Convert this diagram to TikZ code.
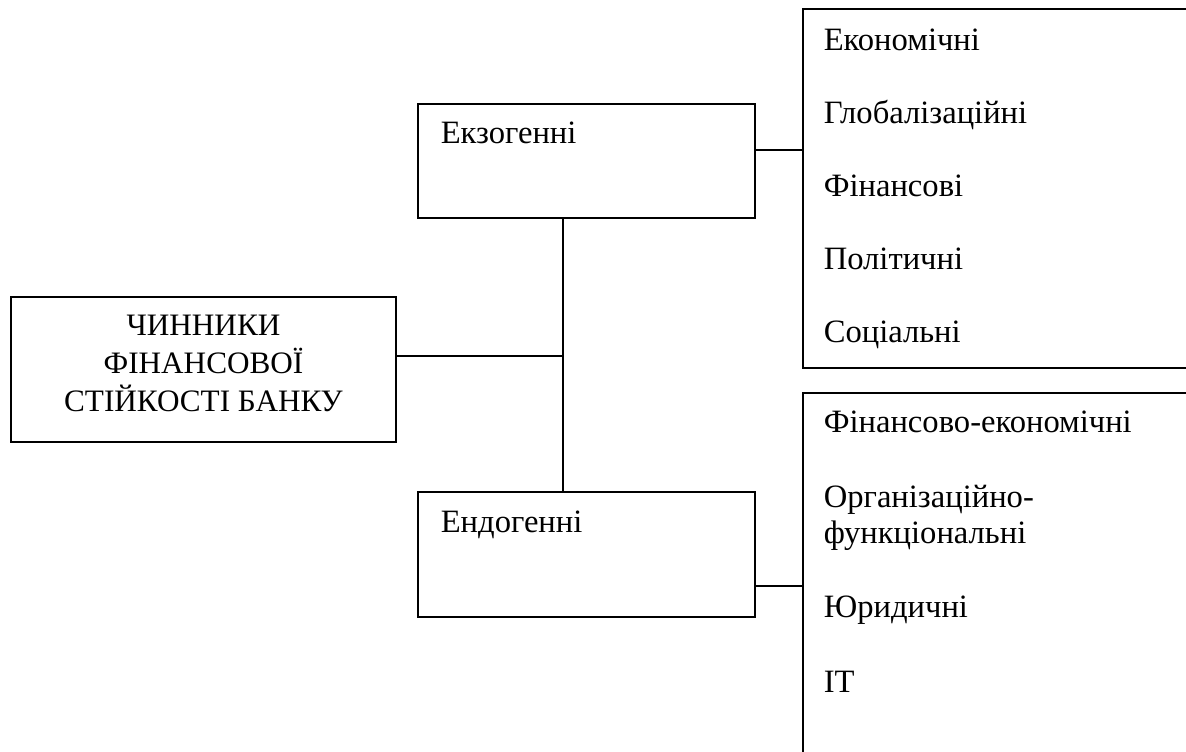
\documentclass[tikz,border=0pt]{standalone}
\usepackage{fontspec}
\setmainfont{Liberation Serif}
\usetikzlibrary{positioning}

\tikzset{
  box/.style={draw, line width=0.8pt, rectangle, inner sep=0pt},
  item/.style={anchor=base west, inner sep=0pt,
    font=\fontsize{16.3}{18.3}\selectfont},
}

\begin{document}
\begin{tikzpicture}[x=0.5pt, y=-0.5pt, line width=0.8pt]
\useasboundingbox (0,0) rectangle (1186,751);

% main box
\node[box, minimum width=192.5pt, minimum height=72.5pt] (main) at (203.5,369.5) {};
\node[anchor=base, inner sep=0pt, font=\fontsize{15.6}{19.2}\selectfont]
  (maintext) at (main.center |- 0,335)
  {\begin{tabular}[t]{@{}c@{}}ЧИННИКИ\\ФІНАНСОВОЇ\\СТІЙКОСТІ БАНКУ\end{tabular}};

% groups
\node[box, minimum width=168.5pt, minimum height=57pt] (exo) at (586.5,161) {};
\node[item] (exotext) at (440,143) {Екзогенні};
\node[box, minimum width=168.5pt, minimum height=62.5pt] (endo) at (586.5,554.5) {};
\node[item] (endotext) at (440,532) {Ендогенні};

% lists (cut by the page edge)
\node[box, minimum width=198.5pt, minimum height=179.5pt] (ext) at (1001.5,188.5) {};
\node[box, minimum width=198.5pt, minimum height=188.5pt] (int) at (1001.5,581.5) {};

\foreach \t [count=\i] in {Економічні, Глобалізаційні, Фінансові, Політичні, Соціальні}
  \node[item] (ex\i) at (823,{50+73*(\i-1)}) {\t};

\foreach \y/\t [count=\i] in {432/Фінансово-економічні,
    507/{\begin{tabular}[t]{@{}l@{}}Організаційно-\\функціональні\end{tabular}},
    617/Юридичні, 692/IT}
  \node[item] (in\i) at (823,\y) {\t};

% connectors
\coordinate (jn) at (563,356);
\draw (main.east |- jn) -- (jn);
\draw (exo.south -| jn) -- (endo.north -| jn);
\draw (exo.east |- 0,150) -- (ext.west |- 0,150);
\draw (endo.east |- 0,586) -- (int.west |- 0,586);
\end{tikzpicture}
\end{document}
